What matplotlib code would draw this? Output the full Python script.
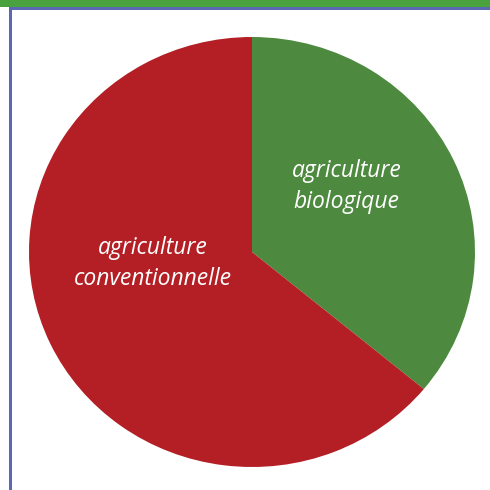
import matplotlib
matplotlib.use("Agg")
import matplotlib.pyplot as plt
from matplotlib.patches import Rectangle

# shares of farming type (green first, clockwise from top)
labels = ["agriculture\nbiologique", "agriculture\nconventionnelle"]
shares = [36, 64]
colors = ["#4d8a3f", "#b31f25"]
label_pos = [(0.425, 0.305), (-0.445, -0.055)]

W = H = 490
fig = plt.figure(figsize=(W / 100, H / 100), dpi=100, facecolor="white")


def px_rect(x0, y0, w, h, color):
    # rectangle given in pixel coords with y measured from the top
    fig.patches.append(Rectangle((x0 / W, 1 - (y0 + h) / H), w / W, h / H,
                                 transform=fig.transFigure, color=color, lw=0, zorder=0))


px_rect(0, 0, W, 7, "#4aa23f")      # green band at top
px_rect(9, 7, W - 9, 3, "#5b69b4")  # blue rule under band
px_rect(9, 7, 3, H - 7, "#5b69b4")  # blue rule on left

# slightly oval pie: centre (252, 252), rx 223, ry 215
cx, cy, rx, ry = 252, 252, 223, 215
ax = fig.add_axes([(cx - rx) / W, 1 - (cy + ry) / H, 2 * rx / W, 2 * ry / H])
ax.pie(shares, colors=colors, startangle=90, counterclock=False, radius=1,
       wedgeprops=dict(linewidth=0))
ax.set_aspect("auto")
ax.set_xlim(-1, 1)
ax.set_ylim(-1, 1)
ax.axis("off")

for lab, (x, y) in zip(labels, label_pos):
    ax.text(x, y, lab, ha="center", va="center", color="white", fontsize=16.5,
            style="italic", family="Open Sans", linespacing=1.4)

fig.savefig("out.png", dpi=100, facecolor="white")
